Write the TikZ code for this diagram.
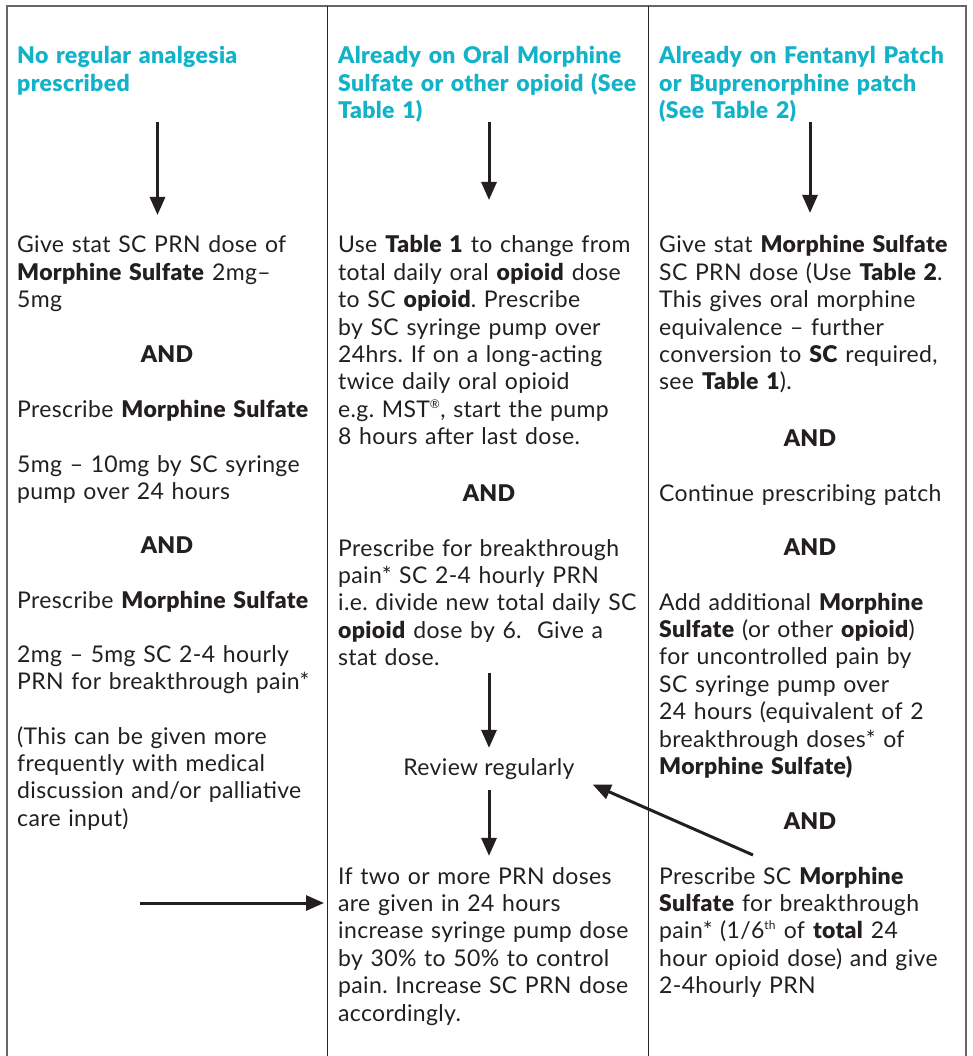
\documentclass[tikz,border=0pt]{standalone}
\usepackage{fontspec}
\setmainfont{Lato}[BoldFont={Lato Black},LetterSpace=1.5]
\usetikzlibrary{arrows.meta}
\definecolor{headcyan}{RGB}{18,178,201}
\definecolor{ink}{RGB}{35,31,32}
\def\body{\fontsize{23}{27.4}\selectfont\frenchspacing}
\def\sups#1{\textsuperscript{\fontsize{12}{12}\selectfont#1}}
\def\arr{\draw[-{Triangle[length=18pt,width=15pt]},line width=3pt,ink]}
\def\mor{\textbf{Morphine Sulfate}}

\begin{document}
\begin{tikzpicture}[x=1pt,y=-1pt,
  every node/.style={inner sep=0pt,text=ink,font=\body},
  hd/.style={anchor=base west,align=left,text width=330pt,font=\body\bfseries,text=headcyan},
  txt/.style={anchor=base west,align=left,text width=330pt},
  andtxt/.style={anchor=base,font=\body\bfseries}]
  \useasboundingbox (0,0) rectangle (973,1056);
  % frame and columns
  \draw[black!60,line width=2pt] (6.5,1056) |- (965.5,6.5) -- (965.5,1056);
  \draw[black!85,line width=1.2pt] (327.5,6.5) -- (327.5,1056);
  \draw[black!85,line width=1.2pt] (648.5,6.5) -- (648.5,1056);

  % headings
  \node[hd] (h1) at (17,64) {No regular analgesia\\prescribed};
  \node[hd] (h2) at (338,64) {Already on Oral Morphine\\Sulfate or other opioid (See\\Table 1)};
  \node[hd] (h3) at (659,64) {Already on Fentanyl Patch\\or Buprenorphine patch\\(See Table 2)};

  % no regular analgesia
  \node[txt] (g1) at (17,253) {Give stat SC PRN dose of\\\mor{} 2mg–\\5mg};
  \node[andtxt] (and1) at (167,362) {AND};
  \node[txt] (p1) at (17,417) {Prescribe \mor};
  \node[txt] (d1) at (17,472) {5mg – 10mg by SC syringe\\pump over 24 hours};
  \node[andtxt] (and2) at (167,553) {AND};
  \node[txt] (p2) at (17,608) {Prescribe \mor};
  \node[txt] (d2) at (17,662) {2mg – 5mg SC 2-4 hourly\\PRN for breakthrough pain*};
  \node[txt] (note) at (17,744) {(This can be given more\\frequently with medical\\discussion and/or palliative\\care input)};

  % oral opioid
  \node[txt] (u1) at (338,253) {Use \textbf{Table 1} to change from\\total daily oral \textbf{opioid} dose\\to SC \textbf{opioid}. Prescribe\\by SC syringe pump over\\24hrs. If on a long-acting\\twice daily oral opioid\\e.g. MST\sups{®}, start the pump\\8 hours after last dose.};
  \node[andtxt] (and3) at (489,501) {AND};
  \node[txt] (pb) at (338,556) {Prescribe for breakthrough\\pain* SC 2-4 hourly PRN\\i.e. divide new total daily SC\\\textbf{opioid} dose by 6.~ Give a\\stat dose.};
  \node[anchor=base] (rev) at (489,775) {Review regularly};
  \node[txt] (inc) at (338,884) {If two or more PRN doses\\are given in 24 hours\\increase syringe pump dose\\by 30\% to 50\% to control\\pain. Increase SC PRN dose\\accordingly.};

  % patch
  \node[txt] (gs) at (659,253) {Give stat \mor\\SC PRN dose (Use \textbf{Table 2}.\\This gives oral morphine\\equivalence – further\\conversion to \textbf{SC} required,\\see \textbf{Table 1}).};
  \node[andtxt] (and4) at (810,446) {AND};
  \node[txt] (cont) at (659,501) {Continue prescribing patch};
  \node[andtxt] (and5) at (810,555) {AND};
  \node[txt] (add) at (659,610) {Add additional \textbf{Morphine}\\\textbf{Sulfate} (or other \textbf{opioid})\\for uncontrolled pain by\\SC syringe pump over\\24 hours (equivalent of 2\\breakthrough doses* of\\\textbf{Morphine Sulfate)}};
  \node[andtxt] (and6) at (810,829) {AND};
  \node[txt] (ps) at (659,884) {Prescribe SC \textbf{Morphine}\\\textbf{Sulfate} for breakthrough\\pain* (1/6\sups{th} of \textbf{total} 24\\hour opioid dose) and give\\2-4hourly PRN};

  % arrows
  \coordinate (t1) at (157.5,122);
  \coordinate (t2) at (489,122);
  \coordinate (t3) at (810,122);
  \coordinate (b1) at (157.5,215);
  \coordinate (b2) at (489,200);
  \coordinate (b3) at (810,213);
  \coordinate (hs) at (140,903);
  \coordinate (dg) at (753,855);
  \arr (t1) -- (b1);
  \arr (t2) -- (b2);
  \arr (t3) -- (b3);
  \arr[shorten <=7pt,shorten >=10pt] (pb.south -| rev.north) -- (rev.north);
  \arr[shorten <=11pt,shorten >=11pt] (rev.south) -- (inc.north -| rev.south);
  \arr[shorten >=14pt] (hs) -- (hs -| inc.west);
  \arr (dg) -- ([shift={(18,16)}]rev.east);
\end{tikzpicture}
\end{document}
